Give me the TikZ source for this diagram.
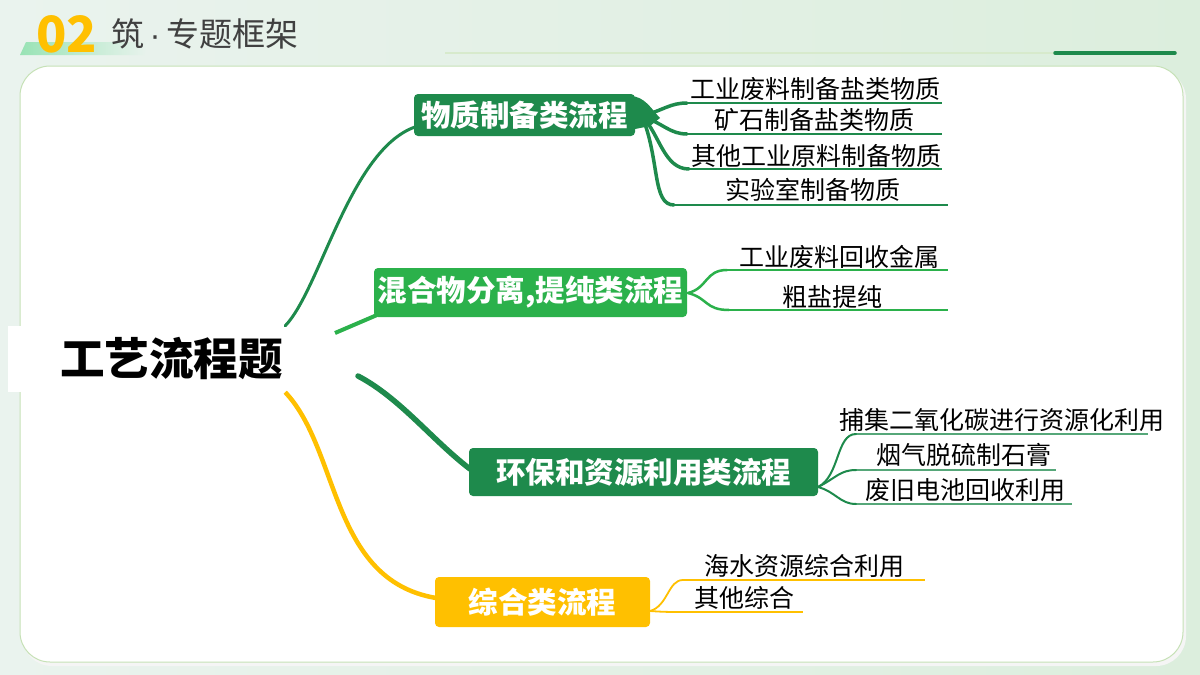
\documentclass[tikz,border=0pt]{standalone}
\usepackage{fontspec}
\newfontfamily\cjk{Noto Sans CJK SC}
\newfontfamily\lat{Liberation Sans}
\usetikzlibrary{calc}
\definecolor{dg}{HTML}{1E8A4C}
\definecolor{mg}{HTML}{2BB14B}
\definecolor{yl}{HTML}{FFC000}
\definecolor{bgA}{HTML}{EAF3EE}
\definecolor{bgB}{HTML}{DCEEDD}
\definecolor{pb}{HTML}{C6E1B6}
\definecolor{hd}{HTML}{404040}
\tikzset{
  sub/.style={font=\cjk\fontsize{25}{30}\selectfont, inner sep=0pt, text=black},
  box/.style={font=\cjk\bfseries\fontsize{29.5}{34}\selectfont, text=white, rounded corners=4pt, inner sep=0pt},
  uline/.style={line width=1.2pt},
  twig/.style={line cap=round},
}
\begin{document}
\begin{tikzpicture}[x=1pt,y=-1pt]
\useasboundingbox (0,0) rectangle (1200,675);
% background
\shade[left color=bgA, right color=bgB] (0,0) rectangle (1200,675);
% header
\shade[left color=green!45!teal!40!white, right color=bgA] (20,55) -- (26,42) -- (150,42) -- (144,55) -- cycle;
\node[font=\cjk\bfseries\fontsize{50}{56}\selectfont, text=yl, inner sep=0pt, anchor=west] (num) at (36,34) {02};
\node[font=\cjk\fontsize{33}{38}\selectfont, text=hd, inner sep=0pt, anchor=west] (title) at (111,34) {筑{\lat\,·\,}专题框架};
\coordinate (l1) at (445,53);
\coordinate (l2) at (1055,53);
\coordinate (l3) at (1175,53);
\draw[line width=1.2pt, color=pb!70] (l1) -- (l2);
\draw[line width=3.5pt, dg, line cap=round] (l2) -- (l3);
% panel
\fill[black!4, rounded corners=30pt] (22,69) rectangle (1186,666);
\draw[fill=white, draw=pb, line width=1pt, rounded corners=30pt] (20,66) rectangle (1183,662);
% main
\node[fill=white, text width=273pt, align=right, minimum height=66pt, inner sep=2pt,
      font=\cjk\bfseries\fontsize{44.6}{50}\selectfont] (main) at (146.5,359) {工艺流程题};
% boxes
\node[box, fill=dg, minimum width=221pt, minimum height=42pt] (b1) at (524.5,115) {物质制备类流程};
\node[box, fill=mg, minimum width=313pt, minimum height=49pt] (b2) at (530.5,292.5) {混合物分离,提纯类流程};
\node[box, fill=dg, minimum width=349pt, minimum height=48pt] (b3) at (643.5,472) {环保和资源利用类流程};
\node[box, fill=yl, minimum width=215pt, minimum height=50pt] (b4) at (542.5,602) {综合类流程};
% main connectors
\coordinate (m2) at (335,333);
\coordinate (m3) at (358,376);
\coordinate (e1) at (415,127);
\coordinate (e2) at (377,315);
\coordinate (e3) at (470,469);
\coordinate (e4) at (436,598);
\draw[dg, line width=3pt, line cap=round] (main.north east) .. controls (320,290) and (350,150) .. (e1);
\draw[mg, line width=4pt] (m2) -- (e2);
\draw[dg, line width=5.5pt, line cap=round] (m3) .. controls (400,398) and (432,440) .. (e3);
\draw[yl, line width=4.5pt] (main.south east) .. controls (340,450) and (330,580) .. (e4);
% ---- branch 1 subs
\coordinate (o1) at (642,116);
\coordinate (u1a) at (687,103); \coordinate (v1a) at (942,103);
\coordinate (u1b) at (687,134); \coordinate (v1b) at (942,134);
\coordinate (u1c) at (689,169); \coordinate (v1c) at (942,169);
\coordinate (u1d) at (674,205); \coordinate (v1d) at (948,205);
\node[sub] (s1a) at (815,89) {工业废料制备盐类物质};
\node[sub] (s1b) at (814,120) {矿石制备盐类物质};
\node[sub] (s1c) at (816,156) {其他工业原料制备物质};
\node[sub] (s1d) at (813,190) {实验室制备物质};
\foreach \a/\b in {u1a/v1a,u1b/v1b,u1c/v1c,u1d/v1d} \draw[uline, dg] (\a) -- (\b);
\begin{scope}[dg, line width=3.5pt, twig]
\draw (o1) .. controls (664,110) and (670,103) .. (u1a);
\draw (o1) .. controls (664,124) and (670,134) .. (u1b);
\draw (o1) .. controls (660,135) and (664,169) .. (u1c);
\draw (o1) .. controls (660,160) and (652,205) .. (u1d);
\end{scope}
\fill[dg] (630,96) .. controls (645,96) and (652,110) .. (660,118) -- (650,126) -- (630,130) -- cycle;
% ---- branch 2 subs
\coordinate (o2) at (688,293);
\coordinate (u2a) at (727,270); \coordinate (v2a) at (948,270);
\coordinate (u2b) at (729,310); \coordinate (v2b) at (948,310);
\node[sub] (s2a) at (839,257) {工业废料回收金属};
\node[sub] (s2b) at (832,297) {粗盐提纯};
\foreach \a/\b in {u2a/v2a,u2b/v2b} \draw[uline, mg] (\a) -- (\b);
\begin{scope}[mg, line width=2.5pt, twig]
\draw (o2) .. controls (708,288) and (705,270) .. (u2a);
\draw (o2) .. controls (708,298) and (705,310) .. (u2b);
\end{scope}
% ---- branch 3 subs
\coordinate (o3) at (818,487);
\coordinate (u3a) at (856,434); \coordinate (v3a) at (1148,434);
\coordinate (u3b) at (856,470); \coordinate (v3b) at (1056,470);
\coordinate (u3c) at (856,504); \coordinate (v3c) at (1072,504);
\node[sub] (s3a) at (1002,420) {捕集二氧化碳进行资源化利用};
\node[sub] (s3b) at (964,455) {烟气脱硫制石膏};
\node[sub] (s3c) at (965,490) {废旧电池回收利用};
\foreach \a/\b in {u3a/v3a,u3b/v3b,u3c/v3c} \draw[uline, dg!75] (\a) -- (\b);
\begin{scope}[dg, line width=2pt, twig]
\draw (o3) .. controls (840,476) and (836,434) .. (u3a);
\draw (o3) .. controls (836,478) and (840,470) .. (u3b);
\draw (o3) .. controls (836,492) and (840,504) .. (u3c);
\end{scope}
% ---- branch 4 subs
\coordinate (o4) at (650,611);
\coordinate (u4a) at (683,580); \coordinate (v4a) at (925,580);
\coordinate (u4b) at (683,612); \coordinate (v4b) at (803,612);
\node[sub] (s4a) at (804,566) {海水资源综合利用};
\node[sub] (s4b) at (744,598) {其他综合};
\foreach \a/\b in {u4a/v4a,u4b/v4b} \draw[uline, yl] (\a) -- (\b);
\begin{scope}[yl, line width=1.8pt, twig]
\draw (o4) .. controls (668,606) and (668,580) .. (u4a);
\draw (o4) .. controls (664,612) and (670,612) .. (u4b);
\end{scope}
\end{tikzpicture}
\end{document}
